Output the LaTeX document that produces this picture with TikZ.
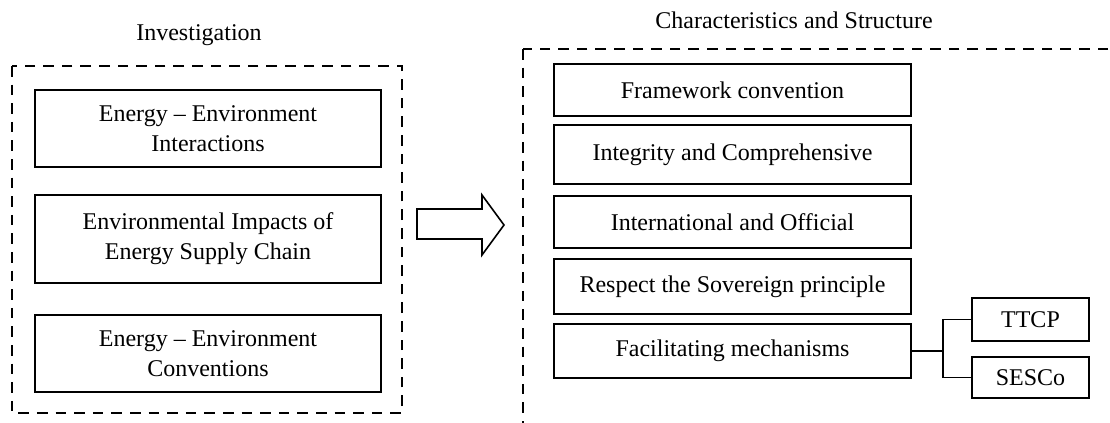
\documentclass[tikz,border=0pt]{standalone}
\usepackage{fontspec}
\setmainfont{Liberation Serif}
\begin{document}
\begin{tikzpicture}[x=0.5pt,y=-0.5pt,
  font=\fontsize{12}{15}\selectfont,
  box/.style={draw,line width=0.8pt,align=center,inner sep=0pt},
  group/.style={draw,line width=1.2pt,dash pattern=on 5.3pt off 4pt}]
\clip (0,0) rectangle (1110,423);

% titles
\node[anchor=base] (invtitle) at (199,40) {Investigation};
\node[anchor=base] (chartitle) at (794,28) {Characteristics and Structure};

% dashed groups
\draw[group] (12,66) rectangle (402,413);
\draw[group] (523,49) rectangle (1140,450);

%-------------------------------------
\node[box,minimum width=173pt,minimum height=38.5pt] (inter) at (208,128.5) {Energy -- Environment\\Interactions};
\node[box,minimum width=173pt,minimum height=44pt] (impact) at (208,239) {Environmental Impacts of\\Energy Supply Chain};
\node[box,minimum width=173pt,minimum height=38.5pt] (conv) at (208,353.5) {Energy -- Environment\\Conventions};

% block arrow
\draw[line width=0.8pt] (417,209) -- (482,209) -- (482,195) -- (504,225)
  -- (482,255) -- (482,239) -- (417,239) -- cycle;

%-------------------------------------
\node[box,minimum width=178.5pt,minimum height=26pt] (frame) at (732.5,90) {Framework convention};
\node[box,minimum width=178.5pt,minimum height=29.5pt] (integ) at (732.5,154.5) {Integrity and Comprehensive};
\node[box,minimum width=178.5pt,minimum height=26pt] (intl) at (732.5,222) {International and Official};
\node[box,minimum width=178.5pt,minimum height=27.5pt] (sov) at (732.5,286.5) {Respect the Sovereign principle};
\node[box,minimum width=178.5pt,minimum height=27pt] (facil) at (732.5,351) {Facilitating mechanisms};

\node[box,minimum width=58.5pt,minimum height=21.5pt] (ttcp) at (1030.5,319.5) {TTCP};
\node[box,minimum width=58.5pt,minimum height=20.5pt] (sesco) at (1030.5,377.5) {SESCo};

\coordinate (fork) at ([xshift=15.5pt]facil.east);
\draw[line width=0.8pt] (facil.east) -- (fork);
\draw[line width=0.8pt] (ttcp.west) -| (fork) |- (sesco.west);

\end{tikzpicture}
\end{document}
